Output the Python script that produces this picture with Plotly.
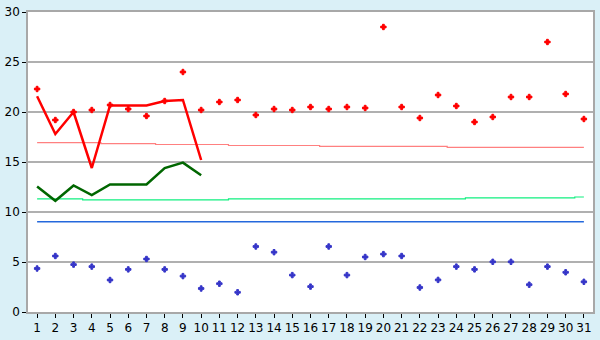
import plotly.graph_objects as go

days = list(range(1, 32))
red_pts = [22.3, 19.2, 20.0, 20.2, 20.7, 20.3, 19.6, 21.1, 24.0, 20.2,
           21.0, 21.2, 19.7, 20.3, 20.2, 20.5, 20.3, 20.5, 20.4, 28.5,
           20.5, 19.4, 21.7, 20.6, 19.0, 19.5, 21.5, 21.5, 27.0, 21.8, 19.3]
blue_pts = [4.35, 5.6, 4.74, 4.54, 3.2, 4.26, 5.3, 4.26, 3.59, 2.35,
            2.83, 1.97, 6.55, 5.98, 3.69, 2.54, 6.55, 3.69, 5.5, 5.79,
            5.6, 2.45, 3.21, 4.54, 4.26, 5.02, 5.02, 2.73, 4.54, 3.97, 3.02]
line_days = list(range(1, 11))
red_line = [21.57, 17.8, 20.0, 14.4, 20.65, 20.65, 20.65, 21.1, 21.2, 15.2]
green_line = [12.55, 11.12, 12.65, 11.7, 12.75, 12.75, 12.75, 14.4, 14.94, 13.68]
pink_avg = [16.94]*4 + [16.84]*3 + [16.75]*4 + [16.65]*5 + [16.56]*7 + [16.46]*8
green_avg = [11.32]*3 + [11.22]*8 + [11.32]*13 + [11.41]*6 + [11.5]
blue_avg = [9.03]*31
y_ticks = [0, 5, 10, 15, 20, 25, 30]

fig = go.Figure()
fig.add_trace(go.Scatter(x=days, y=pink_avg, mode="lines", line=dict(color="#FF8080", width=1.2, shape="hvh")))
fig.add_trace(go.Scatter(x=days, y=green_avg, mode="lines", line=dict(color="#10F080", width=1.2, shape="hvh")))
fig.add_trace(go.Scatter(x=days, y=blue_avg, mode="lines", line=dict(color="#2468DC", width=1.5)))
fig.add_trace(go.Scatter(x=line_days, y=red_line, mode="lines", line=dict(color="#FF0000", width=2.5)))
fig.add_trace(go.Scatter(x=line_days, y=green_line, mode="lines", line=dict(color="#006600", width=2.5)))
fig.add_trace(go.Scatter(x=days, y=red_pts, mode="markers",
                         marker=dict(symbol="cross", size=4.5, color="#FF0000",
                                     line=dict(width=1, color="#FF0000"))))
fig.add_trace(go.Scatter(x=days, y=blue_pts, mode="markers",
                         marker=dict(symbol="cross", size=4.5, color="#3535C8",
                                     line=dict(width=1, color="#3535C8"))))

axis_common = dict(showline=True, linecolor="#A8A8A8", linewidth=1.5, mirror=True,
                   ticks="outside", tickcolor="black", ticklen=4, zeroline=False,
                   tickfont=dict(family="DejaVu Sans", size=12, color="black"))
fig.update_xaxes(range=[0.5, 31.5], tickvals=days, ticktext=[str(d) for d in days],
                 showgrid=False, **axis_common)
fig.update_yaxes(range=[0, 30], tickvals=y_ticks, showgrid=True, gridcolor="#B0B0B0",
                 gridwidth=1.5, **axis_common)
fig.update_layout(width=600, height=340, margin=dict(l=20, r=5, t=5, b=20),
                  paper_bgcolor="#DAF0F7", plot_bgcolor="white", showlegend=False)
fig.write_html("out.html")
